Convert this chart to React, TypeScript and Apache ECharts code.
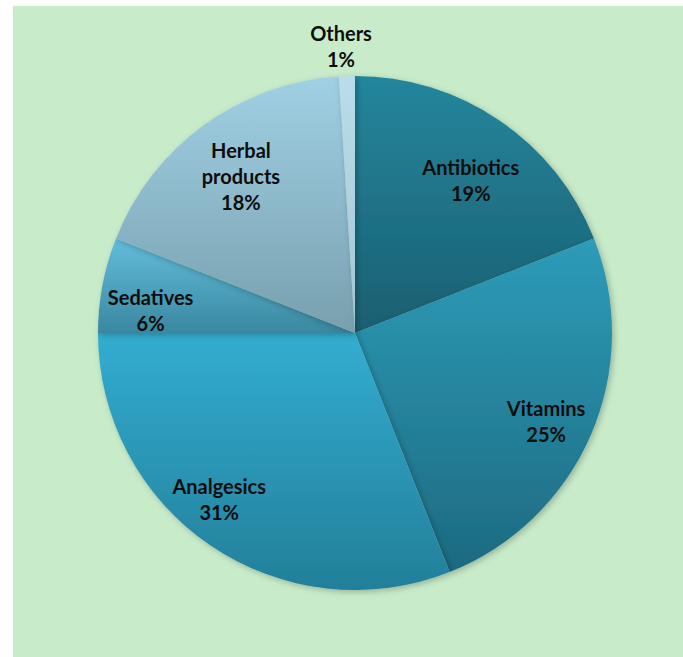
import React, { useEffect, useRef } from "react";
import * as echarts from "echarts";

const categories = ["Antibiotics", "Vitamins", "Analgesics", "Sedatives", "Herbal\nproducts", "Others"];
const values = [19, 25, 31, 6, 18, 1];
const topColors = ["#24869d", "#2d9cb9", "#32add1", "#63bedc", "#a0d0e4", "#b9dde9"];
const bottomColors = ["#1b5f71", "#1d6a80", "#237f99", "#3a87a0", "#78a0ae", "#a3c6d2"];

export default function App() {
  const ref = useRef<HTMLDivElement>(null);
  useEffect(() => {
    document.body.style.margin = "0";
    const chart = echarts.init(ref.current!, undefined, { renderer: "svg" });
    const cx = 355, cy = 333, R = 257;
    const pieData = categories.map((name, i) => ({
      name,
      value: values[i],
      itemStyle: {
        color: new echarts.graphic.LinearGradient(0, 0, 0, 1, [
          { offset: 0, color: topColors[i] },
          { offset: 1, color: bottomColors[i] },
        ]),
      },
    }));
    const labelData = categories.map((name, i) => ({
      name,
      value: values[i],
      label: name === "Others" ? { position: "outside" } : undefined,
    }));
    const labelShift: Record<number, [number, number]> = {
      0: [0, 17],
      1: [2, 6],
      2: [-20, -4],
      3: [-2, 16],
      4: [7, 10],
    };
    chart.setOption({
      animation: false,
      graphic: [
        {
          type: "rect",
          left: 13,
          top: 6,
          shape: { width: 683 - 13, height: 657 - 6 },
          style: { fill: "#c8ecca" },
          z: -10,
        },
      ],
      series: [
        {
          type: "pie",
          center: [cx, cy],
          radius: [0, R],
          startAngle: 90,
          clockwise: true,
          data: pieData,
          label: { show: false },
          labelLine: { show: false },
          itemStyle: {
            shadowBlur: 6,
            shadowOffsetX: 2,
            shadowOffsetY: 2,
            shadowColor: "rgba(0,0,0,0.25)",
          },
          silent: true,
        },
        {
          type: "pie",
          center: [cx, cy],
          radius: [R * 0.58, R],
          startAngle: 90,
          clockwise: true,
          data: labelData,
          itemStyle: { color: "rgba(0,0,0,0)" },
          label: {
            show: true,
            position: "inside",
            formatter: (p: any) => `${p.name}\n${p.value}%`,
            fontFamily: "Lato",
            fontWeight: "bold",
            fontSize: 20,
            lineHeight: 26,
            color: "#0d0d0d",
            align: "center",
          },
          labelLine: { show: false, length: 26, length2: 0 },
          labelLayout: (params: any) => {
            if (params.dataIndex === 5) {
              return { x: 341, y: 46, align: "center", verticalAlign: "middle" };
            }
            const s = labelShift[params.dataIndex];
            return s ? { dx: s[0], dy: s[1] } : {};
          },
          silent: true,
        },
      ],
    });
    return () => chart.dispose();
  }, []);
  return <div ref={ref} style={{ width: 683, height: 657 }} />;
}
